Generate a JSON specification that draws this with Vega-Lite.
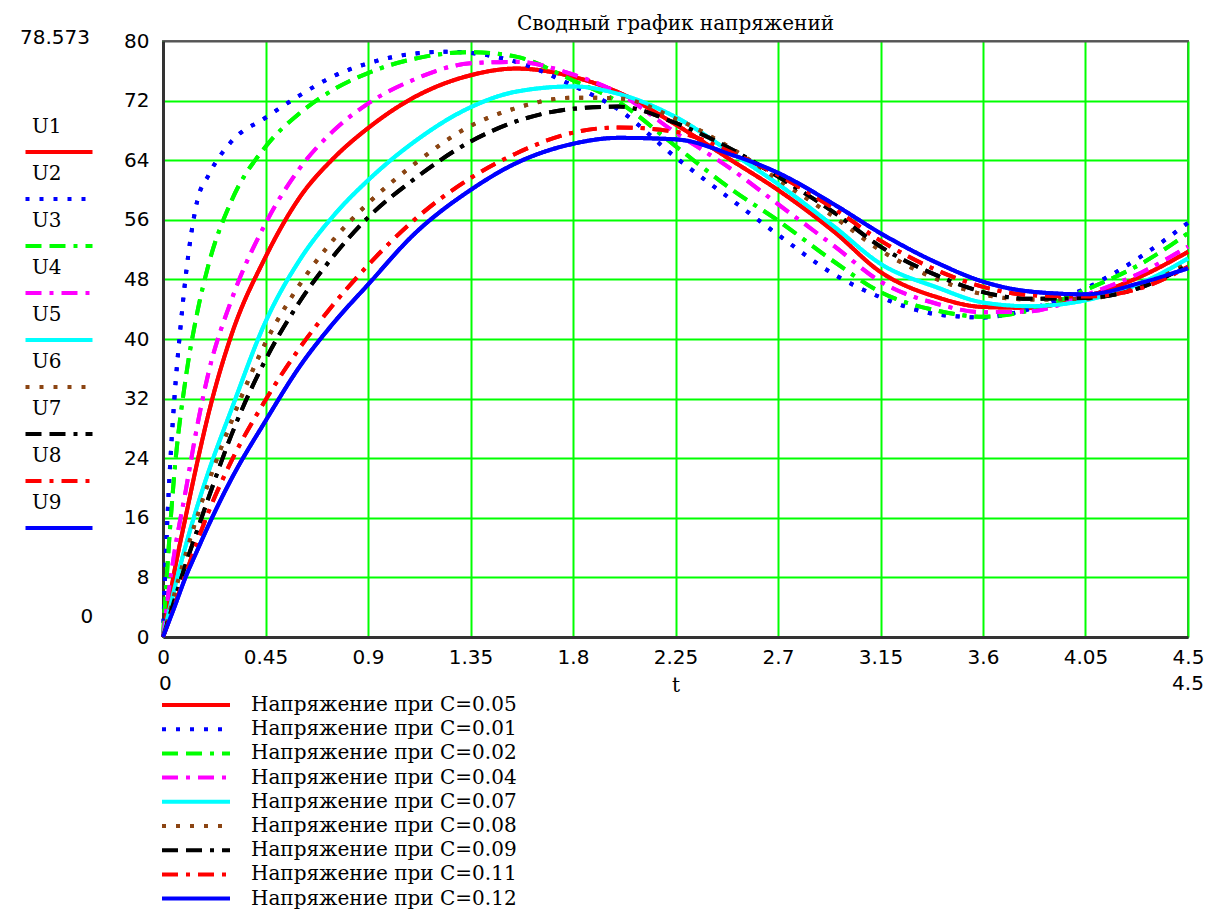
{
  "$schema": "https://vega.github.io/schema/vega-lite/v6.json",
  "width": 1025,
  "height": 596,
  "autosize": {"type": "none"},
  "padding": {"left": 163, "top": 41, "right": 27, "bottom": 273},
  "background": "white",
  "title": {"text": "Сводный график напряжений", "font": "DejaVu Serif", "fontSize": 20, "fontWeight": "normal", "color": "#000", "anchor": "middle", "frame": "group", "offset": 10, "dy": 16},
  "datasets": {
    "curves": [
      {"t": 0, "U1": 0, "U2": 0, "U3": 0, "U4": 0, "U5": 0, "U6": 0, "U7": 0, "U8": 0, "U9": 0},
      {"t": 0.0125, "U2": 11},
      {"t": 0.025, "U1": 4.5, "U2": 19.5, "U3": 12, "U4": 6.2, "U5": 3.3, "U6": 2.9, "U7": 2.5, "U8": 2.1, "U9": 2.0},
      {"t": 0.05, "U1": 8.8, "U2": 32, "U3": 22, "U4": 11.3, "U5": 6.5, "U6": 5.8, "U7": 5.0, "U8": 4.2, "U9": 4.0},
      {"t": 0.075, "U2": 41},
      {"t": 0.1, "U1": 16.2, "U2": 48.5, "U3": 34.8, "U4": 19.7, "U5": 12.3, "U6": 11.2, "U7": 9.8, "U8": 8.5, "U9": 8.1},
      {"t": 0.15, "U1": 23.4, "U2": 58.5, "U3": 43.5, "U4": 28.3, "U5": 17.5, "U6": 16.2, "U7": 14.3, "U8": 12.8, "U9": 11.6},
      {"t": 0.2, "U1": 30.0, "U2": 62.0, "U3": 50.0, "U4": 35.5, "U5": 22.2, "U6": 20.8, "U7": 18.7, "U8": 16.8, "U9": 15.0},
      {"t": 0.3, "U1": 40.5, "U2": 66.5, "U3": 58.5, "U4": 45.2, "U5": 30.5, "U6": 28.9, "U7": 27.1, "U8": 23.6, "U9": 21.2},
      {"t": 0.45, "U1": 51.0, "U2": 69.7, "U3": 65.8, "U4": 55.5, "U5": 42.3, "U6": 39.5, "U7": 37.2, "U8": 31.8, "U9": 29.0},
      {"t": 0.6, "U1": 59.0, "U2": 72.7, "U3": 70.3, "U4": 62.9, "U5": 50.6, "U6": 47.3, "U7": 45.0, "U8": 38.8, "U9": 36.3},
      {"t": 0.75, "U1": 64.3, "U2": 75.3, "U3": 73.5, "U4": 68.0, "U5": 56.6, "U6": 53.4, "U7": 51.2, "U8": 44.7, "U9": 42.2},
      {"t": 0.9, "U1": 68.3, "U2": 77.0, "U3": 75.7, "U4": 71.6, "U5": 61.3, "U6": 58.2, "U7": 56.3, "U8": 49.9, "U9": 47.3},
      {"t": 1.1, "U1": 72.4, "U2": 78.3, "U3": 77.6, "U4": 74.8, "U5": 66.4, "U6": 63.4, "U7": 61.4, "U8": 55.9, "U9": 54.0},
      {"t": 1.25, "U2": 78.57},
      {"t": 1.35, "U1": 75.4, "U2": 78.4, "U3": 78.5, "U4": 77.0, "U5": 71.1, "U6": 68.6, "U7": 66.5, "U8": 61.6, "U9": 60.0},
      {"t": 1.55, "U1": 76.3, "U2": 77.2, "U3": 77.9, "U4": 77.2, "U5": 73.2, "U6": 71.0, "U7": 69.2, "U8": 64.9, "U9": 63.6},
      {"t": 1.8, "U1": 75.2, "U2": 74.0, "U3": 74.7, "U4": 75.5, "U5": 73.9, "U6": 72.4, "U7": 70.9, "U8": 67.7, "U9": 66.2},
      {"t": 2.0, "U1": 73.1, "U2": 70.8, "U3": 71.8, "U4": 73.0, "U5": 72.9, "U6": 72.3, "U7": 71.2, "U8": 68.4, "U9": 67.0},
      {"t": 2.25, "U1": 68.8, "U2": 64.4, "U3": 65.9, "U4": 67.7, "U5": 69.8, "U6": 69.6, "U7": 69.0, "U8": 67.8, "U9": 66.8},
      {"t": 2.5, "U1": 63.9, "U2": 58.6, "U3": 60.0, "U4": 62.7, "U5": 64.9, "U6": 65.5, "U7": 65.4, "U8": 65.0, "U9": 64.7},
      {"t": 2.7, "U1": 60.0, "U2": 54.0, "U3": 55.9, "U4": 58.1, "U5": 60.8, "U6": 61.4, "U7": 61.8, "U8": 62.0, "U9": 62.3},
      {"t": 2.95, "U1": 54.3, "U2": 48.6, "U3": 50.3, "U4": 52.4, "U5": 55.0, "U6": 56.3, "U7": 56.9, "U8": 57.4, "U9": 58.0},
      {"t": 3.15, "U1": 49.0, "U2": 45.6, "U3": 46.3, "U4": 47.7, "U5": 50.1, "U6": 51.9, "U7": 52.4, "U8": 53.2, "U9": 54.2},
      {"t": 3.4, "U1": 45.6, "U2": 43.3, "U3": 43.8, "U4": 44.7, "U5": 46.9, "U6": 48.0, "U7": 48.5, "U8": 49.2, "U9": 50.2},
      {"t": 3.6, "U1": 44.3, "U2": 42.9, "U3": 43.0, "U4": 43.6, "U5": 44.9, "U6": 46.0, "U7": 46.3, "U8": 47.0, "U9": 47.7},
      {"t": 3.8, "U1": 44.2, "U2": 44.0, "U3": 43.8, "U4": 43.7, "U5": 44.4, "U6": 45.3, "U7": 45.4, "U8": 45.9, "U9": 46.4},
      {"t": 4.05, "U1": 45.7, "U2": 46.8, "U3": 46.6, "U4": 45.9, "U5": 45.2, "U6": 45.4, "U7": 45.5, "U8": 45.7, "U9": 46.0},
      {"t": 4.3, "U1": 48.5, "U2": 51.2, "U3": 50.2, "U4": 49.0, "U5": 47.6, "U6": 47.2, "U7": 47.0, "U8": 46.9, "U9": 47.6},
      {"t": 4.5, "U1": 51.7, "U2": 55.6, "U3": 54.2, "U4": 52.4, "U5": 50.8, "U6": 50.2, "U7": 49.9, "U8": 49.7, "U9": 49.5}
    ],
    "names": [
      {"u": "U1", "name": "Напряжение при C=0.05"},
      {"u": "U2", "name": "Напряжение при C=0.01"},
      {"u": "U3", "name": "Напряжение при C=0.02"},
      {"u": "U4", "name": "Напряжение при C=0.04"},
      {"u": "U5", "name": "Напряжение при C=0.07"},
      {"u": "U6", "name": "Напряжение при C=0.08"},
      {"u": "U7", "name": "Напряжение при C=0.09"},
      {"u": "U8", "name": "Напряжение при C=0.11"},
      {"u": "U9", "name": "Напряжение при C=0.12"}
    ],
    "notes": [
      {"t": -0.474, "v": 80.4, "label": "78.573"},
      {"t": -0.334, "v": 2.7, "label": "0"},
      {"t": 0.01, "v": -6.3, "label": "0"},
      {"t": 4.5, "v": -6.3, "label": "4.5"}
    ]
  },
  "layer": [
    {
      "data": {"name": "curves"},
      "transform": [
        {"fold": ["U1", "U2", "U3", "U4", "U5", "U6", "U7", "U8", "U9"], "as": ["u", "v"]},
        {"filter": "isValid(datum.v)"}
      ],
      "mark": {"type": "line", "strokeWidth": 4, "interpolate": "monotone", "strokeCap": "butt"},
      "encoding": {
        "x": {"field": "t", "type": "quantitative", "scale": {"domain": [0, 4.5], "nice": false, "zero": false},
          "axis": {"values": [0, 0.45, 0.9, 1.35, 1.8, 2.25, 2.7, 3.15, 3.6, 4.05, 4.5], "format": ".2~f", "title": "t", "labelFlush": false, "labelPadding": 10, "titlePadding": 8}},
        "y": {"field": "v", "type": "quantitative", "scale": {"domain": [0, 80], "nice": false},
          "axis": {"values": [0, 8, 16, 24, 32, 40, 48, 56, 64, 72, 80], "format": "d", "title": null, "labelPadding": 14, "labelFlush": false,
            "gridColor": {"condition": {"test": "datum.value >= 80", "value": "#555555"}, "value": "#00ff00"}}},
        "color": {"field": "u", "type": "nominal",
          "scale": {"domain": ["U1", "U2", "U3", "U4", "U5", "U6", "U7", "U8", "U9"], "range": ["#ff0000", "#0000ff", "#00ff00", "#ff00ff", "#00ffff", "#8b4513", "#000000", "#ff0000", "#0000ff"]},
          "legend": {"title": null, "orient": "none", "legendX": -138, "legendY": 74, "direction": "vertical", "symbolType": "stroke", "symbolSize": 4489, "symbolStrokeWidth": 4, "clipHeight": 47, "rowPadding": 0, "padding": 0, "labelFont": "DejaVu Serif", "labelFontSize": 20, "labelColor": "#000", "labelLimit": 300,
            "encoding": {"labels": {"x": {"value": 7}, "y": {"value": 12}}, "symbols": {"x": {"value": 34}, "y": {"value": 37}}, "entries": {"width": {"value": 100}, "height": {"value": 47}}}}},
        "strokeDash": {"field": "u", "type": "nominal",
          "scale": {"domain": ["U1", "U2", "U3", "U4", "U5", "U6", "U7", "U8", "U9"], "range": [[1, 0], [4, 10], [16, 8, 16, 8, 4, 8], [16, 8, 4, 8], [1, 0], [4, 10], [16, 8, 16, 8, 4, 8], [16, 8, 4, 8], [1, 0]]},
          "legend": {"title": null, "orient": "none", "legendX": -138, "legendY": 74, "direction": "vertical", "symbolType": "stroke", "symbolSize": 4489, "symbolStrokeWidth": 4, "clipHeight": 47, "rowPadding": 0, "padding": 0, "labelFont": "DejaVu Serif", "labelFontSize": 20, "labelColor": "#000", "labelLimit": 300,
            "encoding": {"labels": {"x": {"value": 7}, "y": {"value": 12}}, "symbols": {"x": {"value": 34}, "y": {"value": 37}}, "entries": {"width": {"value": 100}, "height": {"value": 47}}}}}
      }
    },
    {
      "data": {"name": "curves"},
      "transform": [
        {"fold": ["U1", "U2", "U3", "U4", "U5", "U6", "U7", "U8", "U9"], "as": ["u", "v"]},
        {"filter": "isValid(datum.v)"},
        {"lookup": "u", "from": {"data": {"name": "names"}, "key": "u", "fields": ["name"]}}
      ],
      "mark": {"type": "line", "strokeWidth": 4, "interpolate": "monotone", "strokeCap": "butt"},
      "encoding": {
        "x": {"field": "t", "type": "quantitative"},
        "y": {"field": "v", "type": "quantitative"},
        "color": {"field": "name", "type": "nominal",
          "scale": {"domain": ["Напряжение при C=0.05", "Напряжение при C=0.01", "Напряжение при C=0.02", "Напряжение при C=0.04", "Напряжение при C=0.07", "Напряжение при C=0.08", "Напряжение при C=0.09", "Напряжение при C=0.11", "Напряжение при C=0.12"], "range": ["#ff0000", "#0000ff", "#00ff00", "#ff00ff", "#00ffff", "#8b4513", "#000000", "#ff0000", "#0000ff"]},
          "legend": {"title": null, "orient": "none", "legendX": -3, "legendY": 654, "direction": "vertical", "symbolType": "stroke", "symbolSize": 4624, "symbolStrokeWidth": 4, "clipHeight": 20, "rowPadding": 4.2, "padding": 0, "labelOffset": 19, "labelLimit": 500, "labelFont": "DejaVu Serif", "labelFontSize": 20, "labelColor": "#000"}},
        "strokeDash": {"field": "name", "type": "nominal",
          "scale": {"domain": ["Напряжение при C=0.05", "Напряжение при C=0.01", "Напряжение при C=0.02", "Напряжение при C=0.04", "Напряжение при C=0.07", "Напряжение при C=0.08", "Напряжение при C=0.09", "Напряжение при C=0.11", "Напряжение при C=0.12"], "range": [[1, 0], [4, 10], [16, 8, 16, 8, 4, 8], [16, 8, 4, 8], [1, 0], [4, 10], [16, 8, 16, 8, 4, 8], [16, 8, 4, 8], [1, 0]]},
          "legend": {"title": null, "orient": "none", "legendX": -3, "legendY": 654, "direction": "vertical", "symbolType": "stroke", "symbolSize": 4624, "symbolStrokeWidth": 4, "clipHeight": 20, "rowPadding": 4.2, "padding": 0, "labelOffset": 19, "labelLimit": 500, "labelFont": "DejaVu Serif", "labelFontSize": 20, "labelColor": "#000"}}
      }
    },
    {
      "data": {"name": "notes"},
      "mark": {"type": "text", "font": "DejaVu Sans", "fontSize": 20, "color": "#000", "align": "center", "baseline": "middle"},
      "encoding": {
        "x": {"field": "t", "type": "quantitative"},
        "y": {"field": "v", "type": "quantitative"},
        "text": {"field": "label", "type": "nominal"}
      }
    }
  ],
  "resolve": {
    "scale": {"color": "independent", "strokeDash": "independent"},
    "legend": {"color": "independent", "strokeDash": "independent"}
  },
  "config": {
    "view": {"stroke": "#666", "strokeWidth": 2},
    "axis": {"gridColor": "#00ff00", "gridWidth": 2, "gridOpacity": 1, "domainColor": "#333", "domainWidth": 3, "ticks": false, "labelFont": "DejaVu Sans", "labelFontSize": 20, "labelColor": "#000", "titleFont": "DejaVu Serif", "titleFontSize": 20, "titleFontWeight": "normal", "titleColor": "#000"}
  }
}
